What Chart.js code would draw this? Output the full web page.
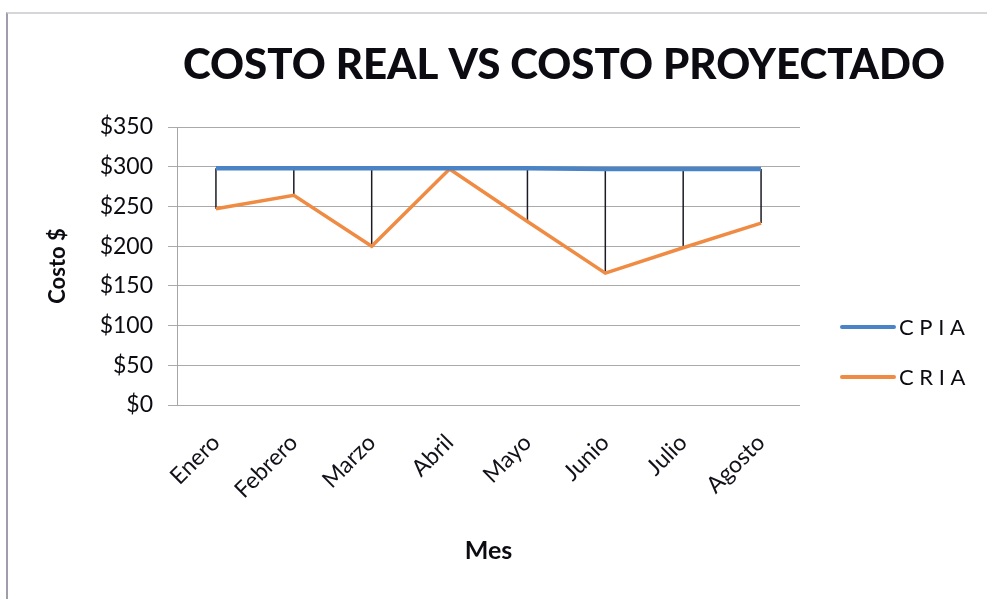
<!DOCTYPE html>
<html lang="es">
<head>
<meta charset="utf-8">
<title>Costo real vs costo proyectado</title>
<script src="https://cdn.jsdelivr.net/npm/chart.js@4.4.1/dist/chart.umd.min.js"></script>
<style>
	html, body { margin: 0; padding: 0; background: #ffffff; }
	.frame { position: relative; width: 987px; height: 599px; overflow: hidden; }
	.frame canvas { position: absolute; left: 0; top: 0; }
	.edge { position: absolute; left: 6px; top: 12px; right: -4px; bottom: -4px; border-left: 2px solid #a39dab; border-top: 2px solid #d6d6d8; pointer-events: none; }
</style>
</head>
<body>
<div class="frame">
	<canvas id="costos" width="987" height="599"></canvas>
	<div class="edge"></div>
</div>
<script>
const meses = ['Enero', 'Febrero', 'Marzo', 'Abril', 'Mayo', 'Junio', 'Julio', 'Agosto'];
const costoProyectado = [298, 298, 298, 298, 298, 297, 297, 297];
const costoReal = [247, 264, 200, 297, 231, 166, 198, 229];
const serieNombres = ['C P I A', 'C R I A'];
const serieColores = ['#4a84c6', '#ef8b43'];

const FONT = 'Lato, "Open Sans", sans-serif';

// vertical lines joining the projected and real cost at every month
const lineasDiferencia = {
	id: 'lineasDiferencia',
	beforeDatasetsDraw(chart) {
		const { ctx } = chart;
		const arriba = chart.getDatasetMeta(0).data;
		const abajo = chart.getDatasetMeta(1).data;

		ctx.save();
		ctx.strokeStyle = '#1c1a26';
		ctx.lineWidth = 1.5;
		arriba.forEach((punto, i) => {
			const otro = abajo[i];
			if (!otro) {
				return;
			}
			ctx.beginPath();
			ctx.moveTo(punto.x, punto.y);
			ctx.lineTo(otro.x, otro.y);
			ctx.stroke();
		});
		ctx.restore();
	},
};

// title and side legend, placed by hand
const encabezado = {
	id: 'encabezado',
	afterDraw(chart) {
		const { ctx } = chart;

		ctx.save();
		ctx.fillStyle = '#0d0b12';
		ctx.font = `900 42px ${FONT}`;
		ctx.textAlign = 'center';
		ctx.textBaseline = 'middle';
		ctx.fillText('COSTO REAL VS COSTO PROYECTADO', 564, 65);

		ctx.font = `22px ${FONT}`;
		ctx.textAlign = 'left';
		chart.data.datasets.forEach((ds, i) => {
			const y = 327 + i * 50;
			ctx.strokeStyle = ds.borderColor;
			ctx.lineWidth = 4;
			ctx.lineCap = 'round';
			ctx.beginPath();
			ctx.moveTo(842, y);
			ctx.lineTo(894, y);
			ctx.stroke();
			ctx.fillText(ds.label, 899, y + 1);
		});
		ctx.restore();
	},
};

document.addEventListener('DOMContentLoaded', () => {
	const el = document.getElementById('costos');

	new Chart(el, {
		type: 'line',
		data: {
			labels: meses,
			datasets: [
				{
					label: serieNombres[0],
					data: costoProyectado,
					borderColor: serieColores[0],
					backgroundColor: serieColores[0],
					borderWidth: 4.5,
					pointRadius: 0,
					tension: 0,
				},
				{
					label: serieNombres[1],
					data: costoReal,
					borderColor: serieColores[1],
					backgroundColor: serieColores[1],
					borderWidth: 3.5,
					pointRadius: 0,
					tension: 0,
				},
			],
		},
		options: {
			responsive: false,
			animation: false,
			layout: {
				padding: { top: 127, right: 187, bottom: 0, left: 0 },
			},
			plugins: {
				legend: { display: false },
				title: { display: false },
				tooltip: { enabled: false },
			},
			scales: {
				x: {
					offset: true,
					grid: { display: false },
					border: { display: false },
					ticks: {
						color: '#121018',
						font: { family: FONT, size: 23 },
						minRotation: 45,
						maxRotation: 45,
						padding: 16,
					},
					title: {
						display: true,
						text: 'Mes',
						color: '#0d0b12',
						font: { family: FONT, size: 25, weight: 'bold' },
						padding: { top: 0, bottom: 33 },
					},
					afterFit(scale) {
						scale.height = 194;
					},
				},
				y: {
					min: 0,
					max: 350,
					grid: {
						color: '#aaaaaa',
						lineWidth: 1,
						tickLength: 9,
					},
					border: { display: true, color: '#a6a6a6', width: 1 },
					ticks: {
						stepSize: 50,
						color: '#0d0b12',
						font: { family: FONT, size: 23 },
						padding: 15,
						callback: (value) => `$${value}`,
					},
					title: {
						display: true,
						text: 'Costo $',
						color: '#0d0b12',
						font: { family: FONT, size: 22, weight: 'bold' },
						padding: { top: 45, bottom: 0 },
					},
					afterFit(scale) {
						scale.width = 177;
					},
				},
			},
		},
		plugins: [lineasDiferencia, encabezado],
	});
});
</script>
</body>
</html>
